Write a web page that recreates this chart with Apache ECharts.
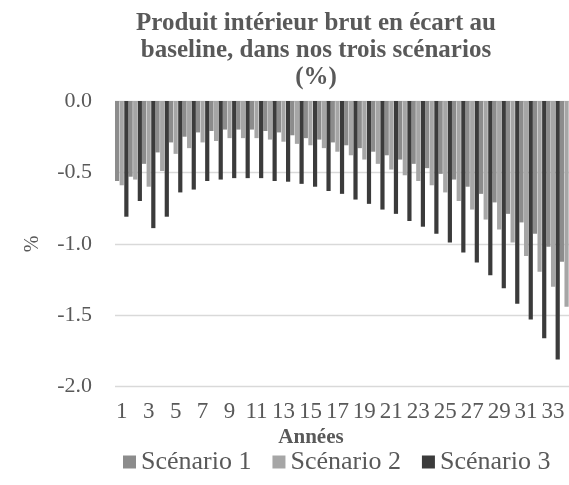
<!DOCTYPE html>
<html>
<head>
<meta charset="utf-8">
<script src="https://cdn.jsdelivr.net/npm/echarts@6/dist/echarts.min.js"></script>
<style>
  html, body { margin: 0; padding: 0; background: #fff; }
  #chart { width: 569px; height: 485px; }
</style>
</head>
<body>
<div id="chart"></div>
<script>
// Années 1 à 34
const years = Array.from({ length: 34 }, (_, i) => String(i + 1));

// PIB en écart au baseline (%), par scénario
const scenario1 = [-0.56, -0.53, -0.44, -0.36, -0.29, -0.25, -0.22, -0.21, -0.20, -0.20,
                   -0.20, -0.21, -0.22, -0.24, -0.26, -0.27, -0.29, -0.31, -0.33, -0.355,
                   -0.38, -0.41, -0.44, -0.47, -0.51, -0.55, -0.60, -0.65, -0.71, -0.79,
                   -0.85, -0.93, -1.02, -1.125];
const scenario2 = [-0.59, -0.55, -0.60, -0.49, -0.37, -0.33, -0.29, -0.28, -0.26, -0.26,
                   -0.26, -0.27, -0.285, -0.30, -0.31, -0.33, -0.355, -0.38, -0.41, -0.44,
                   -0.48, -0.52, -0.56, -0.59, -0.64, -0.70, -0.76, -0.83, -0.90, -0.99,
                   -1.085, -1.195, -1.30, -1.44];
const scenario3 = [-0.81, -0.70, -0.89, -0.81, -0.64, -0.62, -0.56, -0.55, -0.54, -0.54,
                   -0.54, -0.56, -0.565, -0.58, -0.60, -0.63, -0.65, -0.69, -0.72, -0.76,
                   -0.79, -0.84, -0.88, -0.93, -0.99, -1.06, -1.13, -1.22, -1.31, -1.42,
                   -1.53, -1.66, -1.81, -1.98];

const seriesNames = ['Scénario 1', 'Scénario 2', 'Scénario 3'];
const yTicks = [0, -0.5, -1.0, -1.5, -2.0];

const FONT = '"Liberation Serif", "DejaVu Serif", serif';
const TEXT = '#595959';
const GRID = '#d9d9d9';
const colors = ['#8c8c8c', '#a6a6a6', '#3b3b3b'];

const chart = echarts.init(document.getElementById('chart'), null, { renderer: 'canvas' });

chart.setOption({
  animation: false,
  textStyle: { fontFamily: FONT, color: TEXT },
  title: [
    {
      text: 'Produit intérieur brut en écart au\nbaseline, dans nos trois scénarios\n(%)',
      left: 316,
      top: 10,
      textAlign: 'center',
      padding: 0,
      textStyle: { fontFamily: FONT, fontSize: 25, fontWeight: 'bold', color: TEXT, lineHeight: 27 }
    },
    {
      text: 'Années',
      left: 311,
      top: 427,
      textAlign: 'center',
      padding: 0,
      textStyle: { fontFamily: FONT, fontSize: 21, fontWeight: 'bold', color: TEXT }
    }
  ],
  legend: {
    data: seriesNames,
    left: 123,
    top: 449,
    padding: 0,
    itemWidth: 13,
    itemHeight: 13,
    itemGap: 21,
    icon: 'rect',
    textStyle: { fontFamily: FONT, fontSize: 26, color: TEXT }
  },
  grid: { left: 115, top: 101, width: 458.3, height: 285.7, containLabel: false, outerBoundsMode: 'none' },
  xAxis: {
    type: 'category',
    data: years,
    axisLine: { show: false, onZero: false },
    axisTick: { show: false },
    axisLabel: { interval: 1, fontFamily: FONT, fontSize: 23, color: TEXT, margin: 14 }
  },
  yAxis: {
    type: 'value',
    min: -2,
    max: 0,
    interval: 0.5,
    name: '%',
    nameLocation: 'middle',
    nameGap: 72,
    nameTextStyle: { fontFamily: FONT, fontSize: 20, color: TEXT },
    axisLine: { show: false },
    axisTick: { show: false },
    splitLine: { lineStyle: { color: GRID, width: 1.3 } },
    axisLabel: {
      fontFamily: FONT, fontSize: 22, color: TEXT, margin: 23,
      formatter: v => (yTicks.includes(v) ? v.toFixed(1) : '')
    }
  },
  series: [scenario1, scenario2, scenario3].map((d, i) => ({
    name: seriesNames[i],
    type: 'bar',
    data: d,
    barWidth: 4.2,
    barGap: '10%',
    itemStyle: { color: colors[i] }
  }))
});
</script>
</body>
</html>
